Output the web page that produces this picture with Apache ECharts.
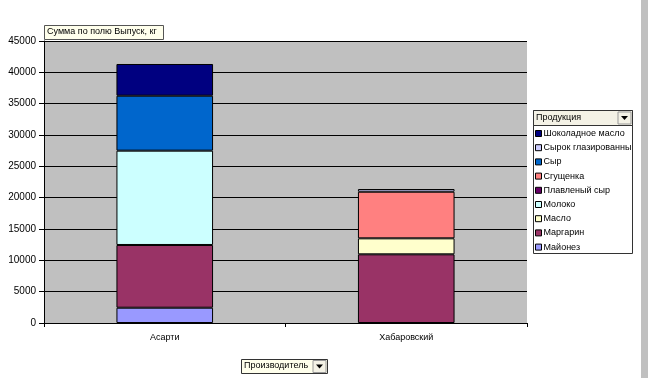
<!DOCTYPE html>
<html>
<head>
<meta charset="utf-8">
<script src="https://cdn.jsdelivr.net/npm/echarts@6/dist/echarts.min.js"></script>
<style>
html,body{margin:0;padding:0;background:#fff;}
#c{width:648px;height:378px;}
</style>
</head>
<body>
<div id="c"></div>
<script>
var categories = ['Асарти', 'Хабаровский'];
var seriesNames = ['Майонез', 'Маргарин', 'Масло', 'Молоко', 'Плавленый сыр', 'Сгущенка', 'Сыр', 'Сырок глазированный', 'Шоколадное масло'];
var mayonez = [2440, null];
var margarin = [10010, 10960];
var maslo = [null, 2550];
var moloko = [15050, null];
var plavSyr = [null, null];
var sgushenka = [null, 7440];
var syr = [8770, null];
var syrok = [null, 430];
var shokMaslo = [5060, null];
var seriesValues = [mayonez, margarin, maslo, moloko, plavSyr, sgushenka, syr, syrok, shokMaslo];
var colors = ['#9999FF', '#993366', '#FFFFCC', '#CCFFFF', '#660066', '#FF8080', '#0066CC', '#CCCCFF', '#000080'];
var yTicks = {min: 0, max: 45000, interval: 5000};

var font = 'Liberation Sans, Arial, sans-serif';
var chart = echarts.init(document.getElementById('c'));

var series = seriesNames.map(function (n, i) {
  return {
    name: n, type: 'bar', stack: 'total', data: seriesValues[i],
    barCategoryGap: '60%',
    itemStyle: {color: colors[i], borderColor: '#000', borderWidth: 1},
    emphasis: {disabled: true}
  };
});

function arrowBtn(x, y) {
  return [
    {type: 'rect', shape: {x: x, y: y, width: 13, height: 12}, style: {fill: '#F4F2E6', stroke: '#999', lineWidth: 1}, z: 10},
    {type: 'polygon', shape: {points: [[x + 3, y + 4], [x + 10, y + 4], [x + 6.5, y + 8]]}, style: {fill: '#000'}, z: 11}
  ];
}

var graphics = [
  {type: 'rect', shape: {x: 641, y: 0, width: 7, height: 378}, style: {fill: '#C0C0C0'}, z: 0},
  {type: 'rect', shape: {x: 44.5, y: 25.5, width: 119, height: 14}, style: {fill: '#FFFFEC', stroke: '#555', lineWidth: 1}, z: 10},
  {type: 'text', x: 47, y: 27, style: {text: 'Сумма по полю Выпуск, кг', font: '9px ' + font, fill: '#000'}, z: 11},
  {type: 'rect', shape: {x: 533.5, y: 110.5, width: 99, height: 143}, style: {fill: '#fff', stroke: '#333', lineWidth: 1}, z: 1},
  {type: 'rect', shape: {x: 533.5, y: 110.5, width: 99, height: 15}, style: {fill: '#F4F2E6', stroke: '#333', lineWidth: 1}, z: 10},
  {type: 'text', x: 536, y: 113, style: {text: 'Продукция', font: '9px ' + font, fill: '#000'}, z: 11},
  {type: 'rect', shape: {x: 241.5, y: 359.5, width: 86, height: 14}, style: {fill: '#FFFFEC', stroke: '#333', lineWidth: 1}, z: 10},
  {type: 'text', x: 244, y: 361, style: {text: 'Производитель', font: '9px ' + font, fill: '#000'}, z: 11}
].concat(arrowBtn(618, 112)).concat(arrowBtn(313, 360.5));

chart.setOption({
  animation: false,
  backgroundColor: '#fff',
  grid: {left: 44, top: 41, right: 121, bottom: 55, show: true, backgroundColor: '#C0C0C0', borderWidth: 0, containLabel: false},
  legend: {
    orient: 'vertical', left: 535, top: 129,
    data: seriesNames.slice().reverse(),
    icon: 'rect', itemWidth: 6, itemHeight: 6, itemGap: 5.2,
    itemStyle: {borderColor: '#000', borderWidth: 1},
    textStyle: {fontFamily: font, fontSize: 9, color: '#000', padding: [0, 0, 0, -3]},
    formatter: function (n) { return n === 'Сырок глазированный' ? 'Сырок глазированны' : n; },
    selectedMode: false, padding: 0
  },
  xAxis: {
    type: 'category', data: categories,
    axisLine: {lineStyle: {color: '#000', width: 1}},
    axisTick: {show: true, length: 4, lineStyle: {color: '#000'}},
    axisLabel: {fontFamily: font, fontSize: 9, color: '#000', margin: 10},
    splitLine: {show: false}
  },
  yAxis: {
    type: 'value', min: yTicks.min, max: yTicks.max, interval: yTicks.interval,
    axisLine: {show: true, lineStyle: {color: '#000', width: 1}},
    axisTick: {show: true, length: 5, lineStyle: {color: '#000'}},
    axisLabel: {fontFamily: font, fontSize: 10, color: '#000', margin: 8, formatter: function (v) { return String(v); }},
    splitLine: {show: true, lineStyle: {color: '#000', width: 1}}
  },
  graphic: graphics,
  series: series
});
</script>
</body>
</html>
